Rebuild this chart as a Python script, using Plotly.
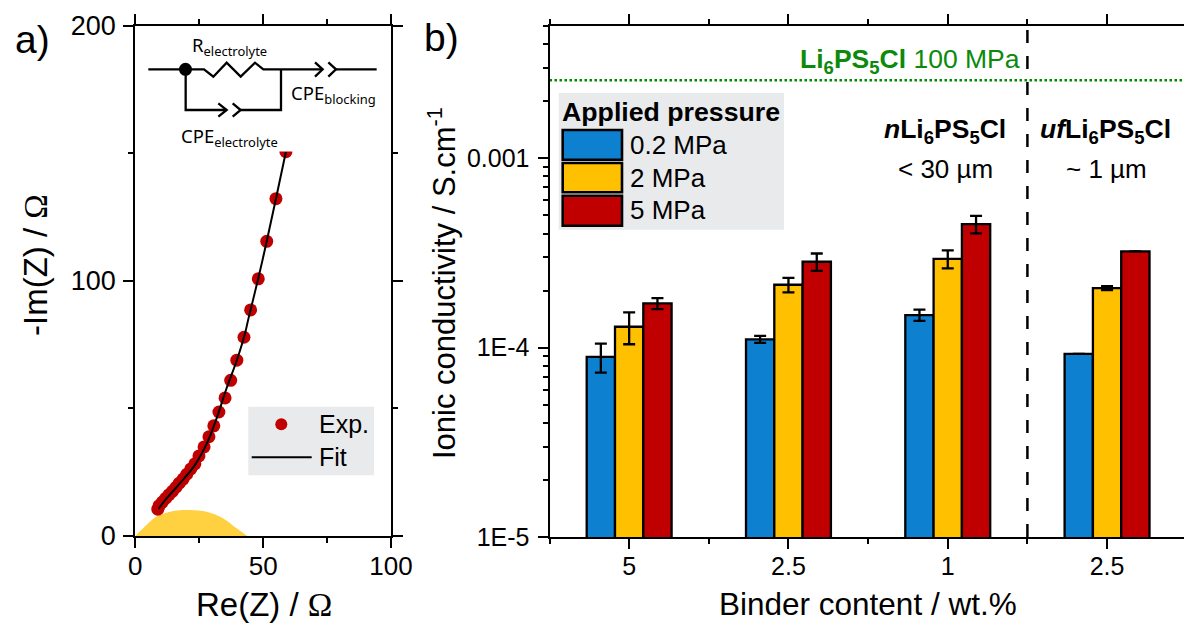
import plotly.graph_objects as go

W, H = 1184, 625
FONT = "Liberation Sans, Arial, sans-serif"

# ---- panel a data ----
exp_re = [8.8, 9.3, 10.6, 11.9, 13.2, 14.5, 15.9, 17.2, 18.7, 20.1, 21.7, 23.3, 24.9, 26.9, 28.8, 30.7, 32.7, 35.1, 37.3, 39.7, 42.5, 45.1, 48.1, 51.4, 55.0, 58.9]
exp_im = [10.5, 11.9, 13.3, 14.8, 16.2, 17.5, 19.1, 20.7, 22.3, 24.2, 26.3, 28.3, 31.4, 34.9, 38.9, 43.2, 48.6, 54.1, 61.0, 68.9, 77.9, 88.6, 100.8, 115.5, 132.2, 150.6]
fit_re = [9.1, 12.3, 17.5, 23.3, 28.0, 31.8, 35.7, 39.7, 42.9, 44.2, 48.1, 51.4, 55.0, 58.9]
fit_im = [10.6, 14.8, 20.7, 27.8, 36.3, 46.1, 57.9, 68.9, 79.4, 85.0, 101.0, 115.5, 132.2, 150.6]
arc_re = [0, 3.1, 8.3, 14.9, 21.4, 27.9, 34.4, 39.6, 43.8]
arc_im = [0, 3.0, 7.6, 9.8, 10.2, 9.5, 6.9, 3.0, 0]

# ---- panel b data ----
group_pos = [1, 2, 3, 4]
group_labels = ["5", "2.5", "1", "2.5"]
pressures = ["0.2 MPa", "2 MPa", "5 MPa"]
sigma_02 = [8.94e-5, 1.105e-4, 1.484e-4, 9.27e-5]
sigma_2 = [1.288e-4, 2.145e-4, 2.94e-4, 2.06e-4]
sigma_5 = [1.71e-4, 2.837e-4, 4.48e-4, 3.22e-4]
err_02 = [1.56e-5, 4.7e-6, 1.0e-5, 0]
err_2 = [2.47e-5, 1.88e-5, 3.2e-5, 5e-6]
err_5 = [1.15e-5, 3.0e-5, 4.7e-5, 0]
reference_sigma = 2.58e-3

BLUE, YELLOW, RED = "#0E80D0", "#FFC000", "#C00000"
GREEN_L, GREEN_T = "#008A00", "#0B8A0B"
PANEL = "#E9EAEC"


def fx(p):
    return p / W


def fy(p):
    return 1 - p / H


fig = go.Figure()

# panel a traces
fig.add_trace(go.Scatter(x=arc_re, y=arc_im, fill="toself", fillcolor="#FFD040", mode="lines",
                         line=dict(width=0, shape="spline", color="#FFD040"),
                         xaxis="x", yaxis="y", showlegend=False))
fig.add_trace(go.Scatter(x=exp_re, y=exp_im, mode="markers", name="Exp.",
                         marker=dict(color="#C00000", size=13), xaxis="x", yaxis="y", showlegend=False, cliponaxis=True))
fig.add_trace(go.Scatter(x=fit_re, y=fit_im, mode="lines", name="Fit", line=dict(color="black", width=2, shape="spline"),
                         xaxis="x", yaxis="y", showlegend=False))

# panel b traces
for name, vals, errs, col in zip(pressures, [sigma_02, sigma_2, sigma_5], [err_02, err_2, err_5], [BLUE, YELLOW, RED]):
    fig.add_trace(go.Bar(x=group_pos, y=vals, name=name, marker=dict(color=col, line=dict(color="black", width=2.3)),
                         error_y=dict(type="data", array=errs, color="black", thickness=2.3, width=6),
                         xaxis="x2", yaxis="y2", showlegend=False))
fig.add_trace(go.Scatter(x=[0.5, 4.483], y=[reference_sigma, reference_sigma], mode="lines",
                         line=dict(color=GREEN_L, width=2.5, dash="2.5px,2.5px"), xaxis="x2", yaxis="y2", showlegend=False))
fig.add_trace(go.Scatter(x=[3.5, 3.5], y=[1e-5, 5e-3], mode="lines",
                         line=dict(color="black", width=2.5, dash="13px,13px"), xaxis="x2", yaxis="y2", showlegend=False))

shapes = []


def rect(x0, y0, x1, y1, fill, line=None, lw=0):
    shapes.append(dict(type="rect", xref="paper", yref="paper", x0=fx(x0), x1=fx(x1), y0=fy(y0), y1=fy(y1),
                       fillcolor=fill, line=dict(color=line or fill, width=lw), layer="above"))


def poly(pts, width=2.3):
    d = "M" + " L".join(f"{fx(x/3):.5f},{fy(y/3):.5f}" for x, y in pts)
    shapes.append(dict(type="path", xref="paper", yref="paper", path=d, line=dict(color="black", width=width), layer="above"))


# white inset masks the data under the circuit
rect(138, 28, 388, 151.5, "white")

# circuit
poly([(445, 208), (612, 208), (640, 230), (680, 188), (722, 230), (765, 188), (790, 208), (968, 208)])
poly([(945, 187), (968, 208), (945, 230)])
poly([(985, 187), (1008, 208), (985, 230)])
poly([(1008, 208), (1130, 208)])
poly([(557, 208), (557, 330), (680, 330)])
poly([(655, 310), (680, 330), (655, 350)])
poly([(698, 310), (722, 330), (698, 350)])
poly([(722, 330), (843, 330), (843, 208)])
shapes.append(dict(type="circle", xref="paper", yref="paper", x0=fx(179), x1=fx(192), y0=fy(62.8), y1=fy(75.8),
                   fillcolor="black", line=dict(color="black", width=0), layer="above"))

# legend a
rect(248.3, 406.7, 374, 475.3, PANEL)
shapes.append(dict(type="circle", xref="paper", yref="paper", x0=fx(275.3), x1=fx(287.3), y0=fy(418.3), y1=fy(430.3),
                   fillcolor=RED, line=dict(color=RED, width=0), layer="above"))
shapes.append(dict(type="line", xref="paper", yref="paper", x0=fx(251.7), x1=fx(311.7), y0=fy(457.3), y1=fy(457.3),
                   line=dict(color="black", width=2), layer="above"))

# legend b
rect(558.7, 93, 784, 229.7, PANEL)
for (y0, y1), col in zip([(130, 159.7), (163, 192.3), (195.7, 225.7)], [BLUE, YELLOW, RED]):
    rect(562.7, y0, 622, y1, col, "black", 2.6)

ann = []


def text(x, y, s, size=25, color="black", anchor="left", angle=0, family=FONT):
    if anchor == "left":
        x -= 2
    ann.append(dict(x=fx(x), y=fy(y), xref="paper", yref="paper", text=s, showarrow=False, xanchor=anchor, yanchor="middle",
                    textangle=angle, font=dict(size=size, color=color, family=family), align="center"))


OMEGA = "<span style=\"font-family:'Liberation Serif'\">Ω</span>"
text(15, 39, "a)", 39)
text(424, 37, "b)", 39)
text(264, 604, f"Re(Z) / {OMEGA}", 33, anchor="center")
text(36, 265, f"-Im(Z) / {OMEGA}", 33, anchor="center", angle=-90)
text(442, 283, "Ionic conductivity / S.cm<sup>-1</sup>", 31, anchor="center", angle=-90)
text(868, 604, "Binder content / wt.%", 31.5, anchor="center")

CAL = "Noto Sans, sans-serif"
text(192.5, 46, "R<sub>electrolyte</sub>", 18.5, family=CAL)
text(290.5, 94, "CPE<sub>blocking</sub>", 18.5, family=CAL)
text(181, 137, "CPE<sub>electrolyte</sub>", 18.5, family=CAL)

text(319.3, 424, "Exp.", 25)
text(319.3, 457, "Fit", 25)

text(671, 112, "<b>Applied pressure</b>", 26.7, anchor="center")
for y, p in zip([145, 178, 210], pressures):
    text(630, y, p, 26)

text(800, 61, "<b>Li<sub>6</sub>PS<sub>5</sub>Cl</b> 100 MPa", 26.5, GREEN_T)
text(945, 131, "<b><i>n</i>Li<sub>6</sub>PS<sub>5</sub>Cl</b>", 26.5, anchor="center")
text(945, 169, "&lt; 30 µm", 26, anchor="center")
text(1105, 131, "<b><i>uf</i>Li<sub>6</sub>PS<sub>5</sub>Cl</b>", 26.5, anchor="center")
text(1106, 169, "~ 1 µm", 26, anchor="center")

common = dict(showline=True, linecolor="black", linewidth=2, showgrid=False, zeroline=False,
              ticks="outside", ticklen=10, tickwidth=2, tickcolor="black")
minor_style = dict(ticks="outside", ticklen=5, tickwidth=2, tickcolor="black")


def tf(size):
    return dict(size=size, family=FONT, color="black")


fig.update_layout(
    width=W, height=H, margin=dict(l=0, r=0, t=0, b=0, autoexpand=False), paper_bgcolor="white", plot_bgcolor="white",
    font=dict(family=FONT, color="black"), showlegend=False,
    barmode="group", bargap=0.467, bargroupgap=0,
    shapes=shapes, annotations=ann,
    xaxis=dict(domain=[fx(135.3), fx(391)], range=[0, 100], anchor="y", tickvals=[0, 50, 100], mirror="ticks",
               ticklabelstandoff=-4, tickfont=tf(26), minor=dict(tickvals=[25, 75], **minor_style), **common),
    yaxis=dict(domain=[fy(536), fy(25.7)], range=[0, 200], anchor="x", tickvals=[0, 100, 200], mirror="ticks",
               ticklabelstandoff=2, tickfont=tf(27), minor=dict(tickvals=[50, 150], **minor_style), **common),
    xaxis2=dict(domain=[fx(549.5), 1], range=[0.5, 4.483], anchor="y2", tickvals=group_pos, ticktext=group_labels, mirror="ticks",
                ticklabelstandoff=-4, tickfont=tf(25), minor=dict(tickvals=[0.5, 1.5, 2.5, 3.5], **minor_style), **common),
    yaxis2=dict(domain=[fy(537), fy(25.7)], type="log", range=[-5, -2.301], anchor="x2",
                tickvals=[1e-5, 1e-4, 1e-3], ticktext=["1E-5", "1E-4", "0.001"], ticklabelstandoff=3, tickfont=tf(25),
                minor=dict(tickvals=[m * d for d in (1e-5, 1e-4, 1e-3) for m in (2, 3, 4, 5, 6, 7, 8, 9)], **minor_style),
                **common),
)

fig.write_html("out.html", config={"displayModeBar": False},
               post_script="document.body.style.margin='0';document.documentElement.style.overflow='hidden';")
